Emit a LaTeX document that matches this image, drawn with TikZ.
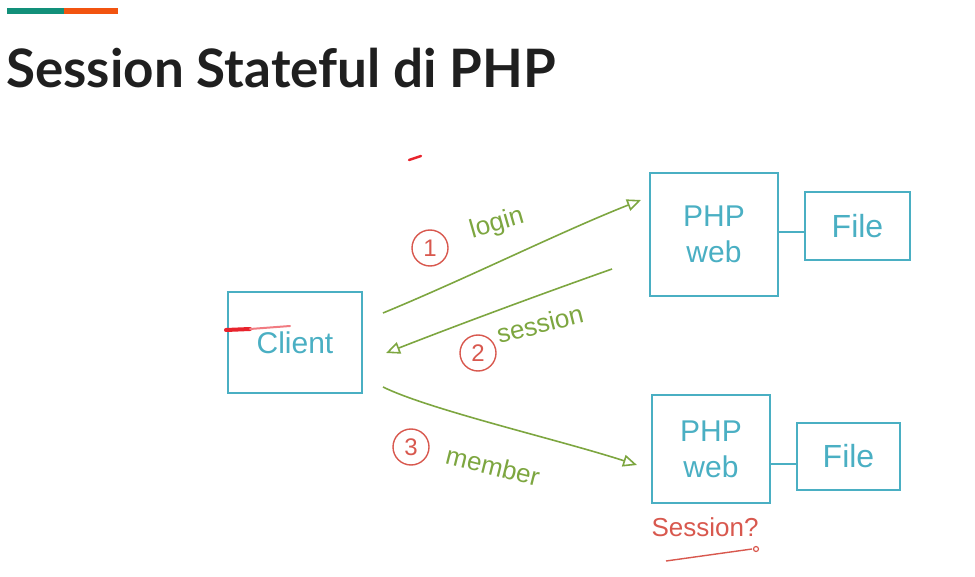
\documentclass[tikz,border=0pt]{standalone}
\usepackage{fontspec}
\setmainfont{Lato}
\newfontfamily\handfont{Liberation Sans}
\usetikzlibrary{arrows.meta}
\definecolor{barteal}{HTML}{12907A}
\definecolor{barorange}{HTML}{F25410}
\definecolor{sketchblue}{HTML}{4AAFC3}
\definecolor{sketchgreen}{HTML}{7DA640}
\definecolor{sketchred}{HTML}{D8584E}
\definecolor{penred}{HTML}{E8232C}
\tikzset{
  box/.style={draw=sketchblue, line width=1.6pt, text=sketchblue, font=\handfont\fontsize{30}{32}\selectfont, align=center, inner sep=0pt},
  filebox/.style={box, font=\handfont\fontsize{32}{34}\selectfont},
  link/.style={draw=sketchblue, line width=1.6pt},
  flow/.style={draw=sketchgreen, line width=1.6pt, -{Triangle[open, length=14pt, width=12pt]}},
  flowlabel/.style={text=sketchgreen, font=\handfont\fontsize{26}{28}\selectfont, inner sep=0pt},
  stepno/.style={draw=sketchred, line width=1.4pt, circle, minimum size=36pt, inner sep=0pt, text=sketchred, font=\handfont\fontsize{24}{24}\selectfont},
  note/.style={text=sketchred, font=\handfont\fontsize{26}{28}\selectfont, inner sep=0pt}
}
\begin{document}
\begin{tikzpicture}[x=1pt, y=-1pt]
  \useasboundingbox (0,0) rectangle (975,577);
  % header bar
  \fill[barteal] (7,8) rectangle (64,14);
  \fill[barorange] (64,8) rectangle (118,14);
  % title
  \node[anchor=base west, inner sep=0pt, font=\bfseries\fontsize{53}{56}\selectfont, text=black!88] (title) at (6,88) {Session Stateful di PHP};

  % boxes
  \node[box, minimum width=134pt, minimum height=101pt] (client) at (295,342.5) {Client};
  \node[box, minimum width=128pt, minimum height=123pt] (php1) at (714,234.5) {PHP\\[4pt]web};
  \node[filebox, minimum width=105pt, minimum height=68pt] (file1) at (857.5,226) {File};
  \node[box, minimum width=118pt, minimum height=108pt] (php2) at (711,449) {PHP\\[4pt]web};
  \node[filebox, minimum width=103pt, minimum height=67pt] (file2) at (848.5,456.5) {File};

  % storage links
  \draw[link] (php1.east |- 0,232) -- (file1.west |- 0,232);
  \draw[link] (php2.east |- 0,464) -- (file2.west |- 0,464);

  % request / response flows
  \coordinate (loginstart) at (383,313);
  \coordinate (loginend) at (641,200);
  \coordinate (sessstart) at (612,269);
  \coordinate (sessend) at (386,353);
  \coordinate (memberstart) at (383,387);
  \coordinate (memberend) at (637,465);
  \draw[flow] (loginstart) .. controls (470,277) and (560,232) .. (loginend);
  \draw[flow] (sessstart) .. controls (530,298) and (450,328) .. (sessend);
  \draw[flow] (memberstart) .. controls (430,410) and (560,440) .. (memberend);

  % step markers and labels
  \node[stepno] (s1) at (430,248) {1};
  \node[flowlabel, rotate=16] (l1) at (497,224) {login};
  \node[stepno] (s2) at (478,353) {2};
  \node[flowlabel, rotate=14] (l2) at (540,324) {session};
  \node[stepno] (s3) at (411,447) {3};
  \node[flowlabel, rotate=-14] (l3) at (493,466) {member};

  % question under the second server
  \node[note] (q) at (705,527) {Session?};
  \coordinate (ulstart) at (666,561);
  \coordinate (ulend) at (752,549);
  \draw[sketchred, line width=1.4pt] (ulstart) -- (ulend);
  \draw[sketchred, line width=1.2pt] (ulend) ++(4,0) circle (2.5pt);

  % pen marks
  \draw[penred, line width=4pt, line cap=round] (226,330) -- (250,329);
  \draw[penred!60, line width=2pt, line cap=round] (250,329) -- (290,326);
  \draw[penred, line width=2.5pt, line cap=round] (409,160) -- (421,156);
\end{tikzpicture}
\end{document}
